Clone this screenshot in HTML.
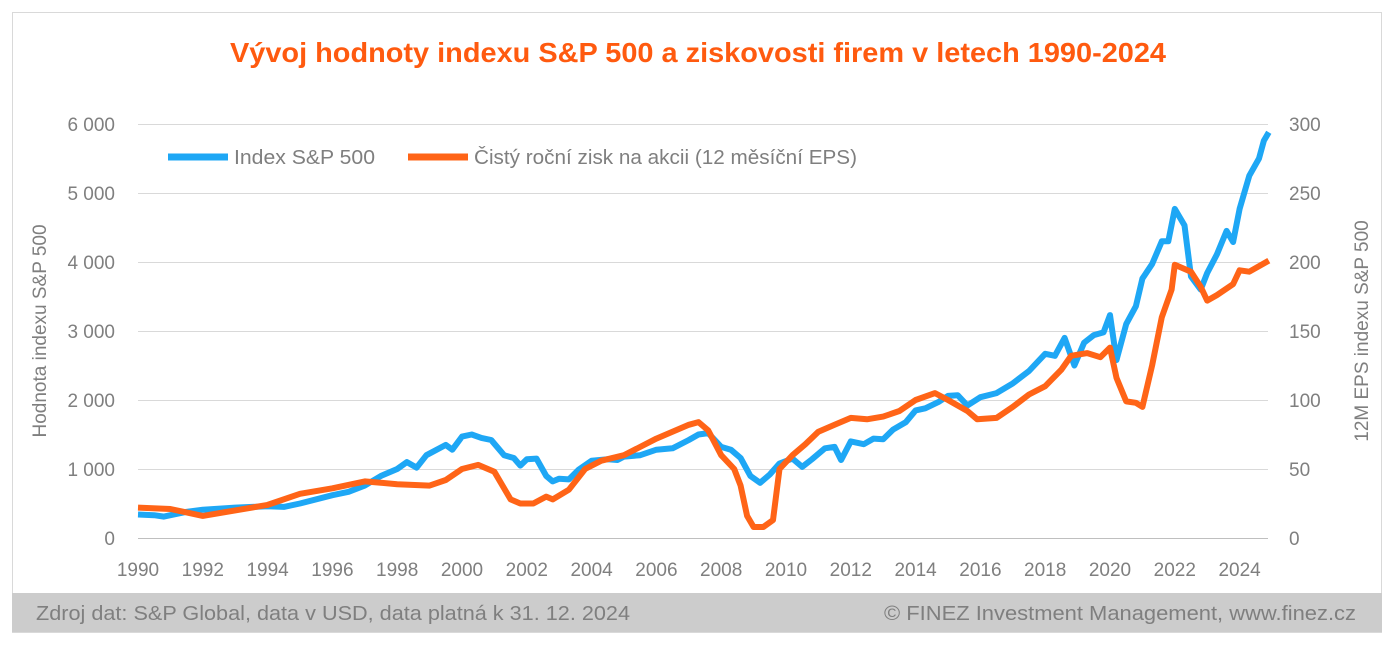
<!DOCTYPE html>
<html><head><meta charset="utf-8"><style>
body{margin:0;background:#fff;width:1394px;height:643px;overflow:hidden;font-family:"Liberation Sans",sans-serif}
</style></head><body>
<svg id="s" width="1394" height="643" xmlns="http://www.w3.org/2000/svg" font-family="Liberation Sans, sans-serif">
<rect x="12.5" y="12.5" width="1369" height="620" fill="#fff" stroke="#d9d9d9"/>
<rect x="12" y="593" width="1370" height="39" fill="#cccccc"/>
<text x="698" y="62" text-anchor="middle" font-size="28" font-weight="bold" fill="#ff5a0f" textLength="936" lengthAdjust="spacingAndGlyphs">Vývoj hodnoty indexu S&amp;P 500 a ziskovosti firem v letech 1990-2024</text>
<g id="grid" stroke="#d9d9d9" stroke-width="1"></g>
<line x1="138" y1="538.5" x2="1268" y2="538.5" stroke="#bfbfbf"/>
<g id="lab" font-size="19" fill="#7f7f7f"></g>
<text transform="translate(46,331) rotate(-90)" text-anchor="middle" font-size="19" fill="#7f7f7f">Hodnota indexu S&amp;P 500</text>
<text transform="translate(1368,331) rotate(-90)" text-anchor="middle" font-size="19" fill="#7f7f7f">12M EPS indexu S&amp;P 500</text>
<line x1="168" y1="157" x2="228" y2="157" stroke="#1ea7f5" stroke-width="7"/>
<text x="234" y="164" font-size="20" fill="#7f7f7f" textLength="141" lengthAdjust="spacingAndGlyphs">Index S&amp;P 500</text>
<line x1="408" y1="157" x2="468" y2="157" stroke="#ff6417" stroke-width="7"/>
<text x="474" y="164" font-size="20" fill="#7f7f7f" textLength="383" lengthAdjust="spacingAndGlyphs">Čistý roční zisk na akcii (12 měsíční EPS)</text>
<polyline id="sp" fill="none" stroke="#1ea7f5" stroke-width="6" stroke-linejoin="round"/>
<polyline id="eps" fill="none" stroke="#ff6417" stroke-width="6" stroke-linejoin="round"/>
<text x="36" y="620" font-size="20" fill="#7f7f7f" textLength="594" lengthAdjust="spacingAndGlyphs">Zdroj dat: S&amp;P Global, data v USD, data platná k 31. 12. 2024</text>
<text x="1356" y="620" text-anchor="end" font-size="20" fill="#7f7f7f" textLength="472" lengthAdjust="spacingAndGlyphs">© FINEZ Investment Management, www.finez.cz</text>
</svg>
<script>
var X=function(y){return 138+(y-1990)*32.4},Y=function(v){return 538-v*0.069},Y2=function(v){return 538-v*1.38};
var g=document.getElementById('grid'),l=document.getElementById('lab'),ns='http://www.w3.org/2000/svg';
function t(x,y,s,a){var e=document.createElementNS(ns,'text');e.setAttribute('x',x);e.setAttribute('y',y);e.setAttribute('text-anchor',a);e.textContent=s;l.appendChild(e);}
for(var i=0;i<=6;i++){var y=Y(i*1000);if(i>0){var ln=document.createElementNS(ns,'line');ln.setAttribute('x1',138);ln.setAttribute('x2',1268);ln.setAttribute('y1',y+.5);ln.setAttribute('y2',y+.5);g.appendChild(ln);}
t(115,y+7,i==0?'0':i+' 000','end');t(1289,y+7,String(i*50),'start');}
for(var yr=1990;yr<=2024;yr+=2)t(X(yr),576,String(yr),'middle');
var sp=[1990,340,1990.5,330,1990.8,310,1991,330,1991.5,380,1992,410,1993,440,1994,460,1994.5,450,1995,500,1996,620,1996.5,670,1997,760,1997.5,900,1998,1000,1998.3,1100,1998.6,1020,1998.9,1200,1999.5,1350,1999.7,1280,2000,1470,2000.3,1500,2000.6,1450,2000.9,1420,2001.3,1200,2001.6,1160,2001.8,1050,2002,1140,2002.3,1150,2002.6,900,2002.8,820,2003,860,2003.3,850,2003.6,990,2004,1120,2004.5,1140,2004.8,1130,2005,1180,2005.5,1200,2006,1280,2006.5,1300,2007,1420,2007.3,1500,2007.6,1520,2008,1320,2008.3,1280,2008.6,1160,2008.9,900,2009.2,800,2009.5,920,2009.8,1080,2010.2,1150,2010.5,1030,2010.8,1140,2011.2,1300,2011.5,1320,2011.7,1130,2012,1400,2012.4,1360,2012.7,1440,2013,1430,2013.3,1570,2013.7,1680,2014,1850,2014.3,1880,2014.7,1970,2015,2060,2015.3,2070,2015.6,1920,2016,2040,2016.5,2100,2017,2240,2017.5,2420,2018,2670,2018.3,2640,2018.6,2900,2018.9,2500,2019.2,2830,2019.5,2940,2019.8,2980,2020,3230,2020.2,2580,2020.5,3100,2020.8,3360,2021,3760,2021.3,3970,2021.6,4300,2021.8,4300,2022,4770,2022.3,4530,2022.5,3790,2022.8,3600,2023,3840,2023.3,4110,2023.6,4450,2023.8,4290,2024,4770,2024.3,5250,2024.6,5500,2024.75,5760,2024.9,5880];
var ep=[1990,22,1991,21,1992,16,1993,20,1994,24,1995,32,1996,36,1997,41,1998,39,1999,38,1999.5,42,2000,50,2000.5,53,2001,48,2001.5,28,2001.8,25,2002.2,25,2002.6,30,2002.8,28,2003.3,35,2003.8,50,2004.3,56,2005,60,2006,72,2007,82,2007.3,84,2007.6,78,2008,60,2008.4,50,2008.6,38,2008.8,16,2009,8,2009.3,8,2009.6,13,2009.8,50,2010.2,60,2010.6,68,2011,77,2011.5,82,2012,87,2012.5,86,2013,88,2013.5,92,2014,100,2014.6,105,2015,100,2015.6,92,2015.9,86,2016.5,87,2017,95,2017.5,104,2018,110,2018.5,122,2018.8,132,2019.3,134,2019.7,131,2020,138,2020.2,116,2020.5,99,2020.8,98,2021,95,2021.3,125,2021.6,160,2021.9,180,2022,198,2022.5,193,2022.8,182,2023,172,2023.3,176,2023.8,184,2024,194,2024.3,193,2024.9,201];
function pts(a,f){var s=[];for(var i=0;i<a.length;i+=2)s.push(X(a[i]).toFixed(1)+','+f(a[i+1]).toFixed(1));return s.join(' ');}
document.getElementById('sp').setAttribute('points',pts(sp,Y));
document.getElementById('eps').setAttribute('points',pts(ep,Y2));
</script>
</body></html>
